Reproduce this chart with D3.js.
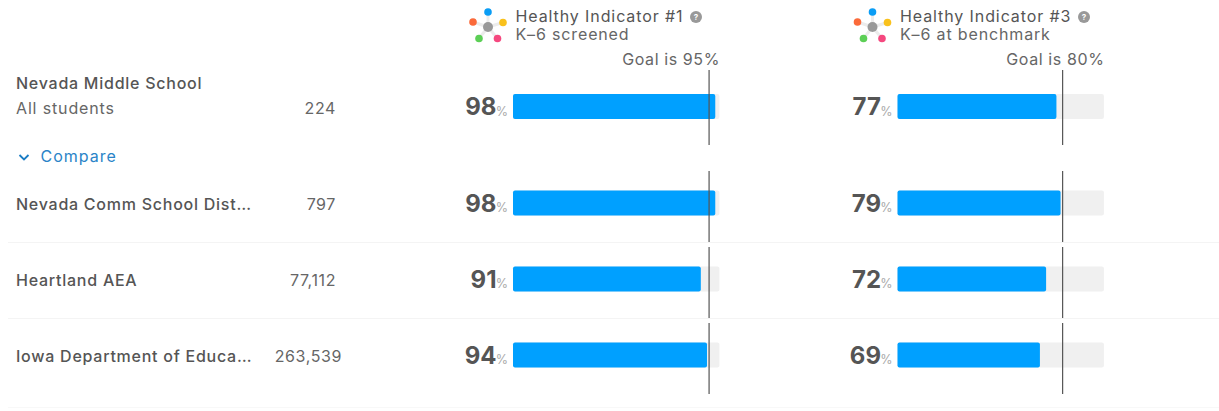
<!DOCTYPE html>
<html><head><meta charset="utf-8">
<script src="https://cdnjs.cloudflare.com/ajax/libs/d3/7.8.5/d3.min.js"></script>
<style>html,body{margin:0;padding:0;background:#fff}svg{display:block}text{font-family:Inter,"Noto Sans",sans-serif}</style>
</head><body><svg id="c" width="1219" height="411"></svg>
<script>
const rowNames=["Nevada Middle School","Nevada Comm School Dist…","Heartland AEA","Iowa Department of Educa…"];
const rowCounts=["224","797","77,112","263,539"];
const indicator1=[98,98,91,94];
const indicator3=[77,79,72,69];
const goals=[95,80];
const titles=["Healthy Indicator #1","Healthy Indicator #3"];
const subtitles=["K–6 screened","K–6 at benchmark"];
const petals=[["#0a9df5",0,-15],["#f9c11c",15,-4.5],["#f5487f",9.5,11.5],["#5ccf56",-9,11.5],["#fb6a3a",-15,-5]];

const svg=d3.select("#c");
const rowY=d3.scaleOrdinal().domain(d3.range(4)).range([106.5,203,279,355]);
const lineTop=[70,171,247,323], lineBottom=[145,242,318,394];
const cols=[{x0:513,vals:indicator1,goal:goals[0],t:titles[0],s:subtitles[0],iconX:488,textX:515.5,qX:696},
            {x0:897.5,vals:indicator3,goal:goals[1],t:titles[1],s:subtitles[1],iconX:872.5,textX:900,qX:1084}];
const dark="#555", mid="#666", fs=16;

svg.selectAll("line.sep").data([242.5,318.5,407.5]).join("line")
  .attr("x1",8).attr("x2",1219).attr("y1",d=>d).attr("y2",d=>d).attr("stroke",(d,i)=>i==2?"#f8f8f8":"#f4f4f4");

svg.selectAll("text.name").data(rowNames).join("text")
  .attr("x",16).attr("y",(d,i)=>i==0?89:rowY(i)+6.5)
  .attr("font-size",fs).attr("font-weight",500).attr("letter-spacing",0.75).attr("fill",dark).text(d=>d);
svg.append("text").attr("x",16).attr("y",113.5).attr("font-size",fs).attr("letter-spacing",0.85).attr("fill",mid).text("All students");
svg.selectAll("text.count").data(rowCounts).join("text")
  .attr("x",(d,i)=>i==3?342:336).attr("y",(d,i)=>i==0?113.5:rowY(i)+6.5)
  .attr("text-anchor","end").attr("font-size",fs).attr("letter-spacing",0.6).attr("fill",mid).text(d=>d);
svg.append("path").attr("d","M19.5 155l4.5 4.5 4.5-4.5").attr("fill","none").attr("stroke","#1a7cc4").attr("stroke-width",1.8);
svg.append("text").attr("x",40.5).attr("y",162).attr("font-size",fs).attr("letter-spacing",1).attr("fill","#2a84c8").text("Compare");

cols.forEach(c=>{
  const x=d3.scaleLinear().domain([0,100]).range([c.x0,c.x0+206.4]);
  const g=svg.append("g");
  const ic=g.append("g").attr("transform",`translate(${c.iconX},27)`);
  ic.selectAll("line").data(petals).join("line").attr("x2",d=>d[1]).attr("y2",d=>d[2]).attr("stroke","#ececec").attr("stroke-width",3);
  ic.selectAll("circle").data(petals).join("circle").attr("cx",d=>d[1]).attr("cy",d=>d[2]).attr("r",3.8).attr("fill",d=>d[0]);
  ic.append("circle").attr("r",5).attr("fill","#999");
  g.append("text").attr("x",c.textX).attr("y",21.5).attr("font-size",fs).attr("letter-spacing",0.9).attr("fill",dark).text(c.t);
  g.append("text").attr("x",c.textX).attr("y",40).attr("font-size",fs).attr("letter-spacing",0.85).attr("fill",mid).text(c.s);
  g.append("circle").attr("cx",c.qX).attr("cy",17).attr("r",6).attr("fill","#999");
  g.append("text").attr("x",c.qX).attr("y",20).attr("text-anchor","middle").attr("font-size",8).attr("font-weight",700).attr("fill","#fff").text("?");
  g.append("text").attr("x",c.x0+207).attr("y",64.5).attr("text-anchor","end").attr("font-size",fs).attr("letter-spacing",0.6).attr("fill",mid).text("Goal is "+c.goal+"%");
  g.selectAll("rect.track").data(c.vals).join("rect").attr("x",x(0)).attr("width",x(100)-x(0))
    .attr("y",(d,i)=>rowY(i)-12.5).attr("height",25).attr("rx",2).attr("fill","#f0f0f0");
  g.selectAll("rect.bar").data(c.vals).join("rect").attr("x",x(0)).attr("width",d=>x(d)-x(0))
    .attr("y",(d,i)=>rowY(i)-12.5).attr("height",25).attr("rx",2).attr("fill","#00a0ff");
  g.selectAll("line.goal").data(c.vals).join("line").attr("x1",x(c.goal)).attr("x2",x(c.goal))
    .attr("y1",(d,i)=>lineTop[i]).attr("y2",(d,i)=>lineBottom[i]).attr("stroke","#555").attr("stroke-width",1.2);
  g.selectAll("text.val").data(c.vals).join("text").attr("x",c.x0-16.5).attr("y",(d,i)=>rowY(i)+8.5)
    .attr("text-anchor","end").attr("font-size",24).attr("font-weight",700).attr("fill",dark).text(d=>d);
  g.selectAll("text.pct").data(c.vals).join("text").attr("x",c.x0-5).attr("y",(d,i)=>rowY(i)+9)
    .attr("text-anchor","end").attr("font-size",12.5).attr("fill","#aaa").text("%");
});
</script></body></html>
